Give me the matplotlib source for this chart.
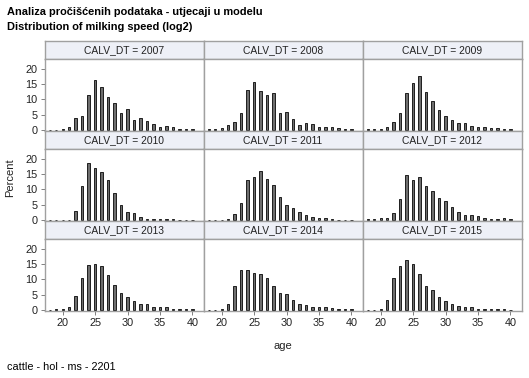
import numpy as np
import matplotlib.pyplot as plt

plt.rcParams['font.family'] = ['Liberation Sans', 'DejaVu Sans']

# ages on the x axis (one bar per year)
ages = np.arange(18, 41)
years = [2007, 2008, 2009, 2010, 2011, 2012, 2013, 2014, 2015]

# percent per age
pct_2007 = [0.1, 0.1, 0.3, 1.1, 3.9, 4.6, 11.3, 16.4, 14.2, 10.7, 8.9, 5.6, 6.9,
            3.1, 3.8, 3.0, 2.1, 1.1, 1.4, 1.1, 0.3, 0.2, 0.3]
pct_2008 = [0.3, 0.4, 0.7, 1.7, 2.6, 5.6, 13.0, 15.7, 12.6, 11.6, 12.0, 5.4, 6.0,
            3.5, 1.7, 2.2, 1.9, 1.1, 1.1, 1.1, 0.7, 0.3, 0.2]
pct_2009 = [0.2, 0.2, 0.3, 0.8, 2.5, 5.6, 12.0, 15.3, 17.6, 12.5, 9.6, 6.4, 4.7,
            3.2, 2.4, 2.2, 1.4, 0.8, 1.0, 0.7, 0.7, 0.4, 0.2]
pct_2010 = [0.1, 0.1, 0.1, 0.1, 2.8, 11.0, 18.8, 17.0, 15.6, 13.1, 8.7, 5.0, 2.7,
            2.2, 1.1, 0.3, 0.4, 0.3, 0.3, 0.2, 0.1, 0.1, 0.1]
pct_2011 = [0.1, 0.1, 0.1, 0.4, 1.9, 5.5, 13.2, 14.2, 16.2, 13.5, 11.3, 7.5, 5.0,
            3.9, 2.7, 1.5, 1.1, 0.7, 0.7, 0.3, 0.1, 0.1, 0.1]
pct_2012 = [0.2, 0.3, 0.5, 0.7, 2.2, 6.7, 14.6, 13.2, 14.0, 11.1, 9.6, 7.2, 6.2,
            4.2, 2.7, 1.6, 1.7, 1.3, 0.7, 0.4, 0.4, 0.7, 0.2]
pct_2013 = [0.1, 0.2, 0.3, 1.1, 4.5, 10.4, 14.8, 15.1, 14.4, 11.3, 8.2, 5.6, 4.4,
            2.8, 2.1, 1.9, 1.0, 1.0, 0.9, 0.4, 0.4, 0.4, 0.2]
pct_2014 = [0.1, 0.1, 0.3, 1.9, 7.8, 13.1, 13.0, 12.2, 11.7, 10.4, 7.9, 5.7, 5.2,
            3.4, 2.1, 1.7, 1.0, 1.1, 0.8, 0.5, 0.4, 0.4, 0.2]
pct_2015 = [0.1, 0.1, 0.2, 3.2, 10.4, 14.5, 16.5, 15.1, 11.8, 7.9, 6.6, 4.3, 3.0,
            1.9, 1.3, 1.0, 1.0, 0.3, 0.4, 0.3, 0.3, 0.3, 0.1]
series = [pct_2007, pct_2008, pct_2009, pct_2010, pct_2011, pct_2012,
          pct_2013, pct_2014, pct_2015]

W, H = 529, 378
fig = plt.figure(figsize=(W / 100, H / 100), dpi=100)

def box(x, y, w, h):
    # pixel box (top-left origin) -> figure fraction rect
    return [x / W, 1 - (y + h) / H, w / W, h / H]

col_x = [44.5, 203.5, 362.5]
row_y = [41, 131, 221]
pw, hh, ph = 159, 18, 72
edge = '#A0A0A0'

for i, (yr, vals) in enumerate(zip(years, series)):
    r, c = divmod(i, 3)
    # header strip
    hx = fig.add_axes(box(col_x[c], row_y[r], pw, hh))
    hx.set_facecolor('#EEF0F7')
    hx.set_xticks([]); hx.set_yticks([])
    for s in hx.spines.values():
        s.set_color(edge); s.set_linewidth(1)
    hx.text(0.5, 0.5, f'CALV_DT = {yr}', ha='center', va='center',
            fontsize=7.4, color='#222222', transform=hx.transAxes)

    ax = fig.add_axes(box(col_x[c], row_y[r] + hh, pw, ph))
    ax.bar(ages, vals, width=0.36, color='#6E6E6E', edgecolor='#1E1E1E', linewidth=0.7)
    ax.set_xlim(17.2, 41.7)
    ax.set_ylim(-0.35, 23.25)
    for s in ax.spines.values():
        s.set_color(edge); s.set_linewidth(1)
    ax.tick_params(length=3, width=0.7, color='#808080', labelsize=7.8,
                   labelcolor='#222222', pad=2)
    ax.set_yticks([0, 5, 10, 15, 20])
    ax.set_xticks([20, 25, 30, 35, 40])
    if c != 0:
        ax.tick_params(axis='y', left=False, labelleft=False)
    if r != 2:
        ax.tick_params(axis='x', bottom=False, labelbottom=False)

fig.text(7 / W, 1 - 12 / H, 'Analiza pročišćenih podataka - utjecaji u modelu',
         fontsize=7.9, fontweight='bold', va='center', ha='left')
fig.text(7 / W, 1 - 27 / H, 'Distribution of milking speed (log2)',
         fontsize=7.9, fontweight='bold', va='center', ha='left')
fig.text(10 / W, 1 - 178 / H, 'Percent', rotation=90, fontsize=8,
         va='center', ha='center', color='#222222')
fig.text(283 / W, 1 - 346 / H, 'age', fontsize=8, va='center', ha='center',
         color='#222222')
fig.text(7 / W, 1 - 367 / H, 'cattle - hol - ms - 2201', fontsize=7.8,
         va='center', ha='left')

fig.savefig('out.png', dpi=100)
